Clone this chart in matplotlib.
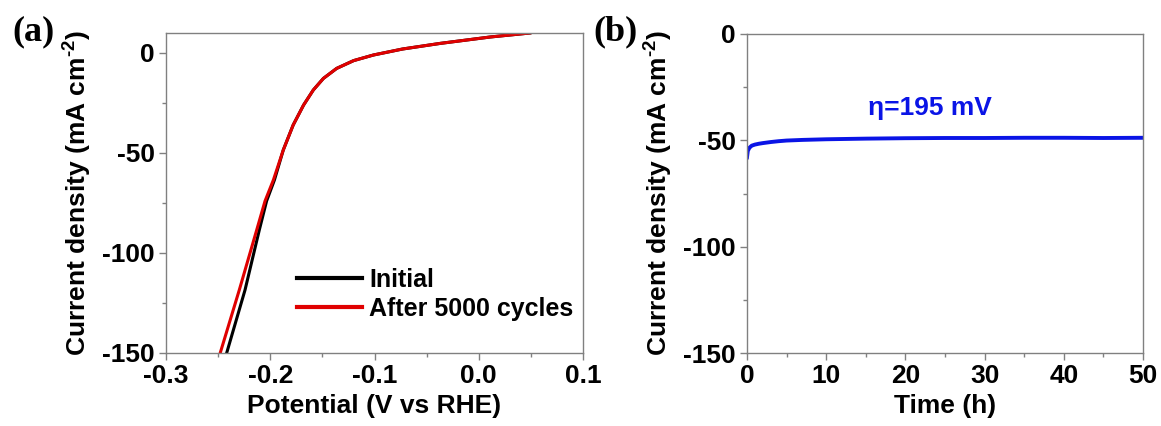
import matplotlib
matplotlib.use("Agg")
import matplotlib.pyplot as plt
from matplotlib.ticker import MultipleLocator

# ---- data ----
pot_initial = [-0.2418, -0.2242, -0.2105, -0.2035, -0.196, -0.1875, -0.178, -0.168, -0.1587, -0.149, -0.1363, -0.120, -0.101, -0.073, -0.037, 0.011, 0.049]
j_initial   = [-150, -118.5, -88.5, -74, -63.5, -48.5, -36, -26, -18.5, -12.7, -7.7, -3.8, -1, 2, 4.8, 8, 10]
pot_after   = [-0.248, -0.2297, -0.213, -0.205, -0.197, -0.1875, -0.178, -0.168, -0.1587, -0.149, -0.1363, -0.120, -0.101, -0.073, -0.037, 0.011, 0.049]
j_after     = [-150, -118.5, -88.5, -74, -63.5, -48.5, -36, -26, -18.5, -12.7, -7.7, -3.8, -1, 2, 4.8, 8, 10]

time_h   = [0, 0.1, 0.3, 0.6, 1, 1.5, 2, 3, 4, 5, 7, 10, 15, 20, 25, 30, 35, 40, 45, 50]
j_stab   = [-58, -55, -53.5, -52.5, -52, -51.6, -51.3, -50.8, -50.4, -50.1, -49.8, -49.5, -49.2, -49.0, -48.9, -48.9, -48.8, -48.8, -48.9, -48.8]

plt.rcParams['font.family'] = ['Liberation Sans', 'DejaVu Sans']
plt.rcParams['font.weight'] = 'bold'
plt.rcParams['mathtext.fontset'] = 'custom'
plt.rcParams['mathtext.rm'] = 'Liberation Sans:bold'
plt.rcParams['mathtext.bf'] = 'Liberation Sans:bold'
plt.rcParams['mathtext.it'] = 'Liberation Sans:bold'
FS = 19
W, H = 1161, 426
fig = plt.figure(figsize=(W/100, H/100), dpi=100)

def style(ax):
    for s in ax.spines.values():
        s.set_color('#808080')
        s.set_linewidth(1.0)
    ax.tick_params(which='major', direction='out', length=5, width=1, color='#808080', labelsize=FS, pad=3)
    ax.tick_params(which='minor', direction='out', length=3, width=1, color='#808080')
    ax.tick_params(top=False, right=False)
    for lab in ax.get_xticklabels() + ax.get_yticklabels():
        lab.set_fontweight('bold')

ylab = 'Current density (mA cm$^{\\text{-2}}$)'

# ---- panel (a) ----
ax1 = fig.add_axes([166/W, (H-353)/H, 417/W, 320/H])
ax1.plot(pot_initial, j_initial, color='black', lw=2.2, label='Initial')
ax1.plot(pot_after, j_after, color='#e00000', lw=2.2, label='After 5000 cycles')
ax1.set_xlim(-0.3, 0.1)
ax1.set_ylim(-150, 10)
ax1.xaxis.set_minor_locator(MultipleLocator(0.05))
ax1.yaxis.set_minor_locator(MultipleLocator(25))
ax1.set_xticks([-0.3, -0.2, -0.1, 0.0, 0.1])
ax1.set_xticklabels(['-0.3', '-0.2', '-0.1', '0.0', '0.1'])
ax1.set_yticks([0, -50, -100, -150])
ax1.set_yticklabels(['0', '-50', '-100', '-150'])
style(ax1)
ax1.set_xlabel('Potential (V vs RHE)', fontsize=FS, fontweight='bold', labelpad=4)
ax1.set_ylabel(ylab, fontsize=FS, fontweight='bold', labelpad=6)
leg = ax1.legend(loc='lower left', bbox_to_anchor=(0.26, 0.03), frameon=False,
                 prop={'size': FS - 1, 'weight': 'bold'}, handlelength=2.6,
                 handletextpad=0.3, labelspacing=0.2)
for l in leg.get_lines():
    l.set_linewidth(3)
fig.text(12/W, 1 - 32/H, '(a)', family='Liberation Serif', fontsize=26, fontweight='bold', va='center', ha='left')

# ---- panel (b) ----
ax2 = fig.add_axes([747/W, (H-353)/H, 396/W, 319/H])
ax2.plot(time_h, j_stab, color='#0a14e6', lw=2.8)
ax2.set_xlim(0, 50)
ax2.set_ylim(-150, 0)
ax2.xaxis.set_major_locator(MultipleLocator(10))
ax2.xaxis.set_minor_locator(MultipleLocator(5))
ax2.set_yticks([0, -50, -100, -150])
ax2.set_yticklabels(['0', '-50', '-100', '-150'])
ax2.yaxis.set_minor_locator(MultipleLocator(25))
style(ax2)
ax2.set_xlabel('Time (h)', fontsize=FS, fontweight='bold', labelpad=4)
ax2.set_ylabel(ylab, fontsize=FS, fontweight='bold', labelpad=6)
ax2.text(23.1, -34.8, 'η=195 mV', color='#0a14e6', fontsize=FS, fontweight='bold', ha='center', va='center')
fig.text(593/W, 1 - 32/H, '(b)', family='Liberation Serif', fontsize=26, fontweight='bold', va='center', ha='left')

fig.savefig('out.png', dpi=100)
